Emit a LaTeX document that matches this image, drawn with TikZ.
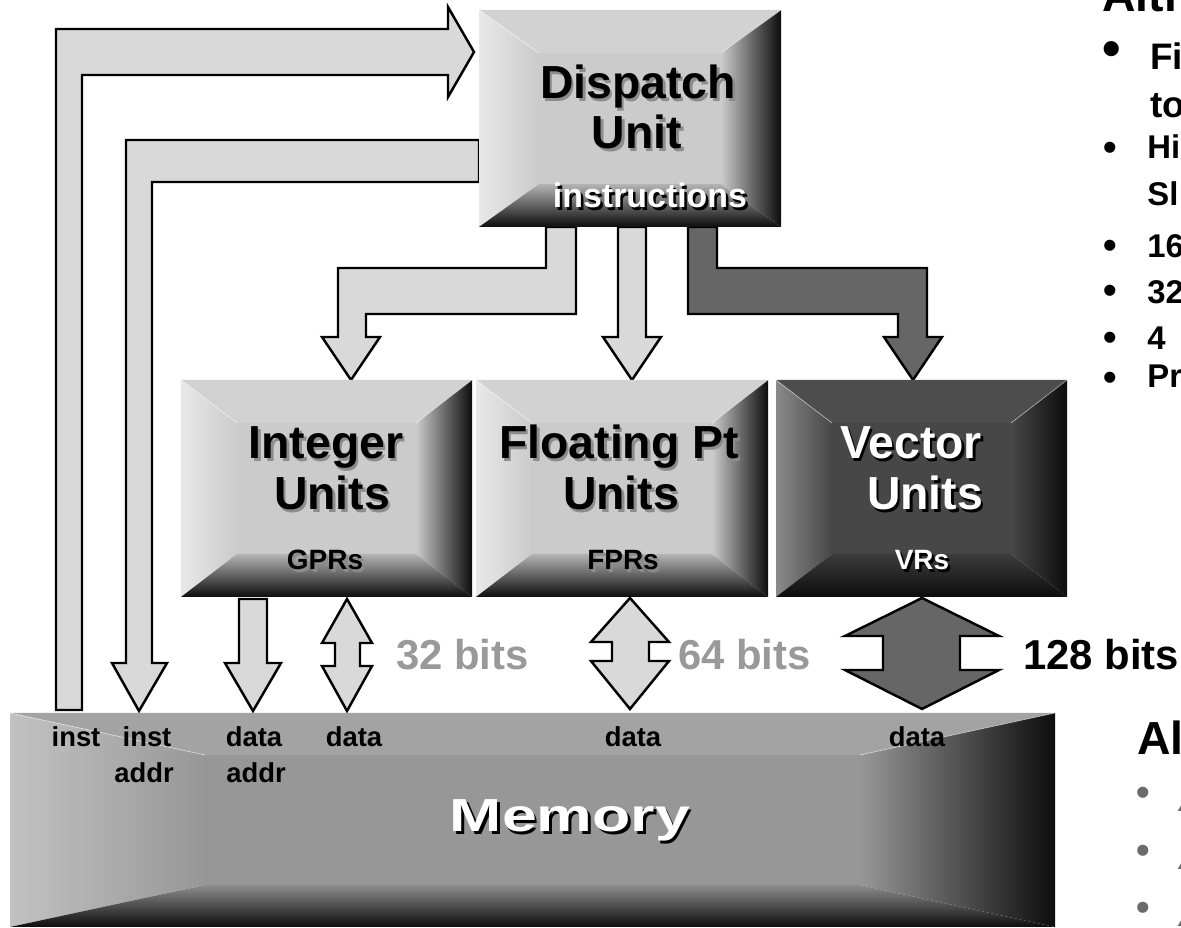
\documentclass[tikz,border=0pt]{standalone}
\usepackage{fontspec}
\setmainfont{Liberation Sans}
\usepackage{graphicx}
\usetikzlibrary{calc}

\definecolor{arrowlight}{HTML}{D9D9D9}
\definecolor{arrowdark}{HTML}{666666}
\definecolor{lightface}{HTML}{CBCBCB}
\definecolor{lighttop}{HTML}{D2D2D2}
\definecolor{lightrim}{HTML}{E8E8E8}
\definecolor{lightlow}{HTML}{B4B4B4}
\definecolor{darkface}{HTML}{474747}
\definecolor{darktop}{HTML}{4D4D4D}
\definecolor{darkrim}{HTML}{8A8A8A}
\definecolor{darklow}{HTML}{3C3C3C}
\definecolor{memface}{HTML}{979797}
\definecolor{memtop}{HTML}{A3A3A3}
\definecolor{memrim}{HTML}{C2C2C2}
\definecolor{memlow}{HTML}{8C8C8C}
\definecolor{shadowgray}{HTML}{8C8C8C}
\definecolor{bitsgray}{HTML}{999999}
\definecolor{notegray}{HTML}{6B6B6B}

% bevelled block: name, outer corners, bevel x/y, tone
\newcommand{\bevelbox}[8]{%
  \fill[#8face] ({#2+#6},{#3+#7}) rectangle ({#4-#6},{#5-#7});
  \fill[#8top] (#2,#3) -- (#4,#3) -- ({#4-#6},{#3+#7}) -- ({#2+#6},{#3+#7}) -- cycle;
  \shade[left color=#8rim, right color=#8face] (#2,#3) -- ({#2+#6},{#3+#7}) -- ({#2+#6},{#5-#7}) -- (#2,#5) -- cycle;
  \shade[left color=#8face, right color=black!95] (#4,#3) -- (#4,#5) -- ({#4-#6},{#5-#7}) -- ({#4-#6},{#3+#7}) -- cycle;
  \shade[top color=#8low, bottom color=black!95] (#2,#5) -- ({#2+#6},{#5-#7}) -- ({#4-#6},{#5-#7}) -- (#4,#5) -- cycle;
  \draw[white, opacity=.5, line width=.4pt] (#2,#3) -- ({#2+#6},{#3+#7}) (#4,#3) -- ({#4-#6},{#3+#7});
  \coordinate (#1) at ({(#2+#4)/2},{(#3+#5)/2});
}
% text with a drop shadow: name, style, position, shadow colour, text
\newcommand{\shadowtext}[5]{%
  \node[#2, text=#4] (#1-s) at ($(#3)+(2.5,2.5)$) {#5};
  \node[#2] (#1) at (#3) {#5};
}

\begin{document}
\begin{tikzpicture}[x=0.02cm, y=-0.02cm]
  \tikzset{
    blockarrow/.style={draw=black, line width=1.4pt, line join=miter},
    lightarrow/.style={blockarrow, fill=arrowlight},
    darkarrow/.style={blockarrow, fill=arrowdark},
    txt/.style={inner sep=0pt, anchor=base},
    unittitle/.style={txt, font=\fontsize{26.4}{28}\selectfont\bfseries},
    unitsub/.style={txt, font=\fontsize{15.9}{18}\selectfont\bfseries},
    bitslabel/.style={txt, anchor=base west, font=\fontsize{23.8}{26}\selectfont\bfseries},
    portlabel/.style={txt, font=\fontsize{15.6}{18}\selectfont\bfseries},
    sidehead/.style={txt, anchor=base west, font=\fontsize{26.4}{28}\selectfont\bfseries},
    sidetext/.style={txt, anchor=base west, font=\fontsize{18.7}{22}\selectfont\bfseries},
    sidebullet/.style={inner sep=0pt, anchor=center, font=\fontsize{22}{24}\selectfont\bfseries},
  }
  \useasboundingbox (0,0) rectangle (1181,928);
  \clip (0,0) rectangle (1181,928);

  % block arrows
  \draw[lightarrow] (56,710) -- (56,29) -- (448,29) -- (448,7) -- (474,52) -- (448,97) -- (448,75) -- (82,75) -- (82,710) -- cycle;
  \draw[lightarrow] (479,140) -- (126,140) -- (126,663) -- (112,663) -- (139,711) -- (167,663) -- (152,663) -- (152,182) -- (479,182) -- cycle;
  \draw[lightarrow] (546,227) -- (546,268) -- (338,268) -- (338,337) -- (322,337) -- (351,380) -- (380,337) -- (366,337) -- (366,314) -- (576,314) -- (576,227) -- cycle;
  \draw[lightarrow] (618,227) -- (618,337) -- (603,337) -- (632,380) -- (661,337) -- (646,337) -- (646,227) -- cycle;
  \draw[darkarrow] (688,227) -- (688,314) -- (898,314) -- (898,337) -- (884,337) -- (913,380) -- (942,337) -- (927,337) -- (927,268) -- (717,268) -- (717,227) -- cycle;
  \draw[lightarrow] (239,599) -- (239,663) -- (225,663) -- (253,711) -- (281,663) -- (267,663) -- (267,599) -- cycle;
  \draw[lightarrow] (347,599) -- (372,643) -- (360,643) -- (360,666) -- (372,666) -- (347,711) -- (322,666) -- (335,666) -- (335,643) -- (322,643) -- cycle;
  \draw[lightarrow] (630,598) -- (669,642) -- (649,642) -- (649,661) -- (669,661) -- (630,709) -- (591,661) -- (612,661) -- (612,642) -- (591,642) -- cycle;
  \draw[darkarrow] (922,598) -- (999,636) -- (960,636) -- (960,670) -- (999,670) -- (922,709) -- (845,670) -- (883,670) -- (883,636) -- (845,636) -- cycle;

  % units
  \bevelbox{disp}{479}{10}{781}{227}{60}{43}{light}
  \bevelbox{int}{181}{380}{472}{597}{56}{43}{light}
  \bevelbox{fpu}{476}{380}{768}{597}{56}{43}{light}
  \bevelbox{vec}{776}{380}{1067}{597}{56}{43}{dark}
  \bevelbox{mem}{10}{713}{1055}{927}{195}{42}{mem}

  \shadowtext{disp-a}{unittitle}{638,99}{shadowgray}{Dispatch}
  \shadowtext{disp-b}{unittitle}{637,149}{shadowgray}{Unit}
  \shadowtext{disp-c}{unitsub, font=\fontsize{19.3}{22}\selectfont\bfseries, text=white}{650,208}{black}{instructions}
  \shadowtext{int-a}{unittitle}{326,459}{shadowgray}{Integer}
  \shadowtext{int-b}{unittitle}{332,510}{shadowgray}{Units}
  \shadowtext{int-c}{unitsub}{325,570}{shadowgray}{GPRs}
  \shadowtext{fpu-a}{unittitle}{619,459}{shadowgray}{Floating Pt}
  \shadowtext{fpu-b}{unittitle}{621,510}{shadowgray}{Units}
  \shadowtext{fpu-c}{unitsub}{623,570}{shadowgray}{FPRs}
  \shadowtext{vec-a}{unittitle, text=white}{911,459}{black}{Vector}
  \shadowtext{vec-b}{unittitle, text=white}{925,510}{black}{Units}
  \shadowtext{vec-c}{unitsub, text=white}{922,570}{black}{VRs}
  \shadowtext{mem-a}{unittitle, text=white}{570,832}{black}{\scalebox{1.35}[1]{Memory}}

  % ports
  \node[portlabel] (p-inst) at (76,747) {inst};
  \node[portlabel] (p-iaddr) at (147,747) {inst};
  \node[portlabel] (p-daddr) at (254,747) {data};
  \node[portlabel] (p-idata) at (354,747) {data};
  \node[portlabel] (p-fdata) at (633,747) {data};
  \node[portlabel] (p-vdata) at (917,747) {data};
  \node[portlabel] (p-iaddr2) at (144,783) {addr};
  \node[portlabel] (p-daddr2) at (256,783) {addr};

  \node[bitslabel, text=bitsgray] (w-int) at (396,670) {32 bits};
  \node[bitslabel, text=bitsgray] (w-fpu) at (678,670) {64 bits};
  \node[bitslabel] (w-vec) at (1023,670) {128 bits};

  % slide text cut by the right edge
  \node[sidehead] (h-top) at (1102,12) {Alti};
  \node[sidebullet, font=\fontsize{30}{32}\selectfont\bfseries] (b-1) at (1112,54) {•};
  \node[sidetext, font=\fontsize{21}{24}\selectfont\bfseries] (t-1) at (1150,70) {Fi};
  \node[sidetext, font=\fontsize{21}{24}\selectfont\bfseries] (t-1b) at (1150,118) {to};
  \node[sidebullet] (b-2) at (1110,151) {•};
  \node[sidetext] (t-2) at (1147,159) {Hi};
  \node[sidetext] (t-2b) at (1147,206) {Sl};
  \node[sidebullet] (b-3) at (1110,249) {•};
  \node[sidetext] (t-3) at (1147,258) {16};
  \node[sidebullet] (b-4) at (1110,294) {•};
  \node[sidetext] (t-4) at (1147,304) {32};
  \node[sidebullet] (b-5) at (1110,341) {•};
  \node[sidetext] (t-5) at (1147,350) {4};
  \node[sidebullet] (b-6) at (1110,381) {•};
  \node[sidetext] (t-6) at (1147,388) {Pr};
  \node[sidehead] (h-low) at (1137,755) {Al};
  \foreach \y [count=\i] in {792,850,907} {
    \node[sidebullet, text=notegray] (g-\i) at (1143,\y+4) {•};
    \node[sidetext, text=notegray, font=\fontsize{18.7}{22}\selectfont\itshape] (n-\i) at (1179,\y+20) {A};
  }
\end{tikzpicture}
\end{document}
